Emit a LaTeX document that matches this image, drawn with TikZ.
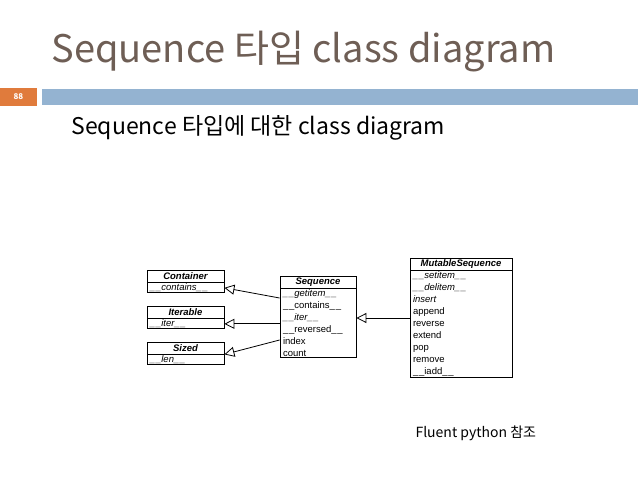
\documentclass[tikz,border=0pt]{standalone}
\usepackage{fontspec}
\setmainfont{Noto Sans CJK KR}
\newfontfamily\umlfont{Liberation Sans}
\usetikzlibrary{positioning,arrows.meta}
\definecolor{titlegray}{HTML}{6E5E55}
\definecolor{barblue}{HTML}{94B3D1}
\definecolor{numorange}{HTML}{E07B3C}
\newcommand{\du}{\_\kern0.8pt\_}
\tikzset{
  head/.style={draw, thick, inner sep=1pt, minimum height=12pt, font=\umlfont\fontsize{9.5}{10}\selectfont\bfseries\itshape},
  body/.style={draw, thick, inner xsep=3pt, inner ysep=1pt, align=left, anchor=north, font=\umlfont\fontsize{9.5}{12}\selectfont},
  inherit/.style={thick, -{Triangle[open, length=10pt, width=10pt]}}
}
\begin{document}
\begin{tikzpicture}[x=1pt, y=-1pt]
  \useasboundingbox (0,0) rectangle (638,479);

  % title and bar
  \node[anchor=base west, text=titlegray, font=\fontsize{38}{40}\selectfont] (title) at (48,62) {Sequence 타입 class diagram};
  \fill[numorange] (0,88) rectangle (37,106);
  \node[text=white, font=\fontsize{8}{9}\selectfont\bfseries] (num) at (18.5,97) {88};
  \fill[barblue] (42,89) rectangle (638,105);
  \node[anchor=base west, font=\fontsize{23}{26}\selectfont] (sub) at (68,134) {Sequence 타입에 대한 class diagram};

  % classes
  \node[head, minimum width=77pt] (container) at (185.5,276) {Container};
  \node[body, text width=71pt, below=0pt of container] (containerb) {\textit{\du contains\du}};
  \node[head, minimum width=77pt] (iterable) at (185.5,312) {Iterable};
  \node[body, text width=71pt, below=0pt of iterable] (iterableb) {\textit{\du iter\du}};
  \node[head, minimum width=77pt] (sized) at (185.5,348) {Sized};
  \node[body, text width=71pt, below=0pt of sized] (sizedb) {\textit{\du len\du}};

  \node[head, minimum width=76pt] (seq) at (318,282) {Sequence};
  \node[body, text width=70pt, below=0pt of seq] (seqb) {\textit{\du getitem\du}\\\du contains\du\\\textit{\du iter\du}\\\du reversed\du\\index\\count};

  \node[head, minimum width=102pt] (mut) at (461,264) {MutableSequence};
  \node[body, text width=96pt, below=0pt of mut] (mutb) {\textit{\du setitem\du}\\\textit{\du delitem\du}\\\textit{insert}\\append\\reverse\\extend\\pop\\remove\\\du iadd\du};

  % inheritance
  \draw[inherit] (seqb.west |- 0,298) -- (containerb.east);
  \draw[inherit] (seqb.west |- iterableb.east) -- (iterableb.east);
  \draw[inherit] (seqb.west |- 0,340) -- (sizedb.north east);
  \draw[inherit] (mutb.west |- 0,318) -- (seqb.east |- 0,318);

  \node[anchor=base west, font=\fontsize{14}{16}\selectfont] (ref) at (412,437) {Fluent python 참조};
\end{tikzpicture}
\end{document}
